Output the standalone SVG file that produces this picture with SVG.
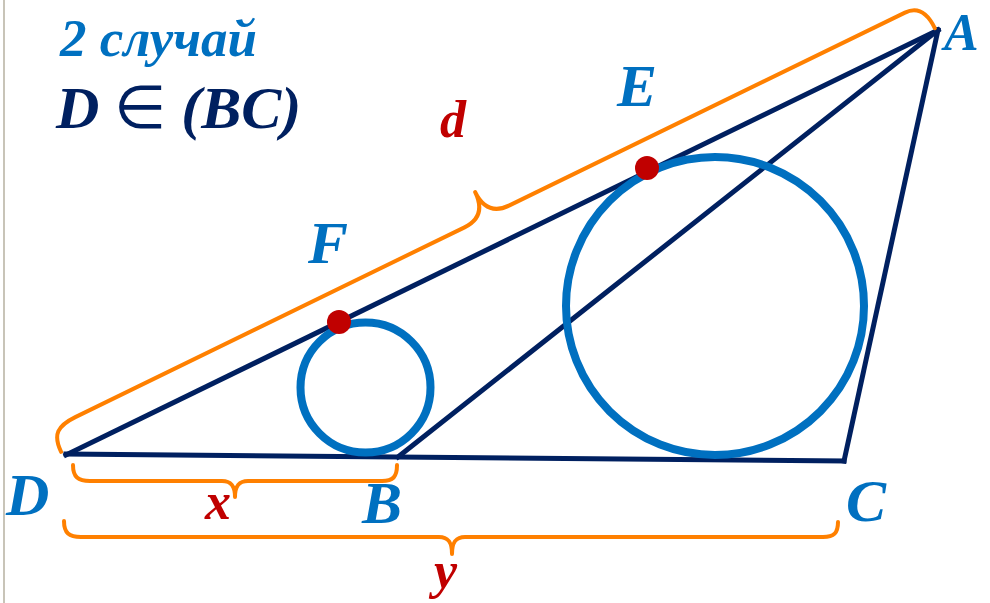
<svg xmlns="http://www.w3.org/2000/svg" width="990" height="603" viewBox="0 0 990 603">
<style>
.ln{stroke:#002060;stroke-width:5;fill:none;stroke-linecap:square}
.cir{stroke:#0070c0;stroke-width:8;fill:none}
.br{stroke:#ff8000;stroke-width:4;fill:none;stroke-linecap:round;stroke-linejoin:round}
.pt{fill:#c00000}
.t{font-family:"Liberation Serif",serif;font-style:italic;font-weight:bold}
.bl{fill:#0070c0}
.nv{fill:#002060}
.rd{fill:#c00000}
.cap{font-size:60px}
.low{font-size:52px}
</style>
<rect width="990" height="603" fill="#ffffff"/>
<line x1="4" y1="0" x2="4" y2="603" stroke="#c8c4b8" stroke-width="2"/>
<g id="lines">
<line class="ln" x1="66" y1="455" x2="938" y2="30"/>
<line class="ln" x1="66" y1="454" x2="844" y2="461"/>
<line class="ln" x1="398" y1="457" x2="938" y2="30"/>
<line class="ln" x1="938" y1="30" x2="844" y2="461"/>
</g>
<g id="circles">
<circle class="cir" cx="365.5" cy="387.5" r="65"/>
<circle class="cir" cx="715" cy="306" r="149"/>
</g>
<g id="braces">
<path class="br" transform="translate(66,455) rotate(-25.99)" d="M -3,-5 C -3,-24 5,-30 25,-30 L 458,-30 C 476,-30 483,-40 483,-57 C 483,-40 490,-30 508,-30 L 948,-30 C 962,-30 968,-20 968,-3"/>
<path class="br" d="M 73,465 C 73,477 78,481 90,481 L 222,481 C 232,481 235,487 235,497 C 235,487 238,481 248,481 L 382,481 C 393,481 397,477 397,465"/>
<path class="br" d="M 64,521 C 64,533 69,537 81,537 L 439,537 C 449,537 452,543 452,554 C 452,543 455,537 465,537 L 823,537 C 834,537 838,533 838,522"/>
</g>
<g id="points">
<circle class="pt" cx="339" cy="322" r="12"/>
<circle class="pt" cx="647" cy="168" r="12"/>
</g>
<g id="labels">
<text class="t bl" x="60" y="56" font-size="53">2 случай</text>
<text class="t nv" x="56" y="128" font-size="60">D <tspan font-style="normal" font-weight="normal">∈</tspan> (BC)</text>
<text class="t bl" x="944" y="50" font-size="52">A</text>
<text class="t bl cap" x="617" y="106">E</text>
<text class="t rd low" x="440" y="137">d</text>
<text class="t bl cap" x="308" y="263">F</text>
<text class="t bl cap" x="6" y="515">D</text>
<text class="t rd low" x="205" y="519">x</text>
<text class="t bl cap" x="362" y="523">B</text>
<text class="t bl cap" x="846" y="521">C</text>
<text class="t rd low" x="434" y="588">y</text>
</g>
</svg>
